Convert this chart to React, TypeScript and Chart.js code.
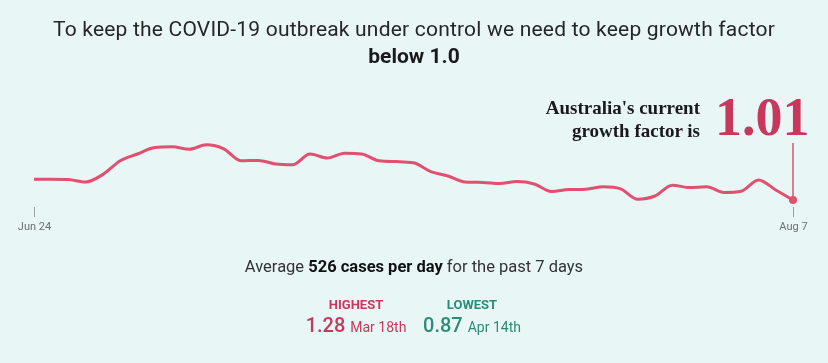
import React, { useEffect, useRef } from "react";
import { Chart, registerables } from "chart.js";

Chart.register(...registerables);

const dates = [
  "Jun 24", "Jun 25", "Jun 26", "Jun 27", "Jun 28", "Jun 29", "Jun 30",
  "Jul 1", "Jul 2", "Jul 3", "Jul 4", "Jul 5", "Jul 6", "Jul 7", "Jul 8",
  "Jul 9", "Jul 10", "Jul 11", "Jul 12", "Jul 13", "Jul 14", "Jul 15",
  "Jul 16", "Jul 17", "Jul 18", "Jul 19", "Jul 20", "Jul 21", "Jul 22",
  "Jul 23", "Jul 24", "Jul 25", "Jul 26", "Jul 27", "Jul 28", "Jul 29",
  "Jul 30", "Jul 31", "Aug 1", "Aug 2", "Aug 3", "Aug 4", "Aug 5", "Aug 6",
  "Aug 7",
];

const growthFactor = [
  1.062, 1.062, 1.061, 1.055, 1.074, 1.108, 1.125, 1.141, 1.143, 1.137,
  1.148, 1.138, 1.108, 1.109, 1.1, 1.098, 1.125, 1.115, 1.127, 1.125,
  1.108, 1.106, 1.103, 1.081, 1.07, 1.055, 1.054, 1.051, 1.056, 1.05,
  1.031, 1.036, 1.037, 1.043, 1.038, 1.012, 1.02, 1.047, 1.041, 1.043,
  1.029, 1.032, 1.06, 1.035, 1.01,
];

const tickDates = ["Jun 24", "Aug 7"];
const yMin = 1.0;
const yMax = 1.15;

const currentValue = "1.01";
const avgCases = "526";
const highest = { value: "1.28", date: "Mar 18th" };
const lowest = { value: "0.87", date: "Apr 14th" };

const LINE = "#e0506f";
const PINK = "#c8385c";
const GREEN = "#2e8b76";
const BG = "#e8f6f6";
const SANS = "Roboto, 'Noto Sans', sans-serif";
const SERIF = "'Liberation Serif', 'DejaVu Serif', serif";

const annotate = {
  id: "annotate",
  beforeDatasetsDraw(chart: any) {
    const { ctx, chartArea, scales } = chart;
    const last = growthFactor.length - 1;
    const px = scales.x.getPixelForValue(last);
    const py = scales.y.getPixelForValue(growthFactor[last]);
    ctx.save();
    ctx.strokeStyle = "#d6566f";
    ctx.lineWidth = 1.5;
    ctx.beginPath();
    ctx.moveTo(px, chartArea.top - 1);
    ctx.lineTo(px, py);
    ctx.stroke();
    ctx.restore();
  },
  afterDatasetsDraw(chart: any) {
    const { ctx, chartArea, scales } = chart;
    ctx.save();
    ctx.font = `11px ${SANS}`;
    ctx.textAlign = "center";
    ctx.textBaseline = "alphabetic";
    for (const d of tickDates) {
      const i = dates.indexOf(d);
      const tx = Math.round(scales.x.getPixelForValue(i)) + 0.5;
      ctx.strokeStyle = "#9aa0a0";
      ctx.lineWidth = 1;
      ctx.beginPath();
      ctx.moveTo(tx, chartArea.bottom + 3);
      ctx.lineTo(tx, chartArea.bottom + 13);
      ctx.stroke();
      ctx.fillStyle = "#6b6f70";
      ctx.fillText(d, tx, chartArea.bottom + 26);
    }
    ctx.restore();
  },
};

export default function App() {
  const ref = useRef<HTMLCanvasElement | null>(null);

  useEffect(() => {
    if (!ref.current) return;
    const last = growthFactor.length - 1;
    const chart = new Chart(ref.current, {
      type: "line",
      data: {
        labels: dates,
        datasets: [
          {
            data: growthFactor,
            borderColor: LINE,
            borderWidth: 3,
            cubicInterpolationMode: "monotone",
            pointRadius: growthFactor.map((_, i) => (i === last ? 4 : 0)),
            pointBackgroundColor: LINE,
            pointBorderWidth: 0,
            pointHoverRadius: 0,
            fill: false,
            clip: false,
          } as any,
        ],
      },
      options: {
        animation: false,
        responsive: false,
        devicePixelRatio: 1,
        events: [],
        layout: { padding: { left: 34, right: 35, top: 144, bottom: 159 } },
        plugins: { legend: { display: false }, tooltip: { enabled: false } },
        scales: {
          x: { type: "category", display: false, offset: false },
          y: { display: false, min: yMin, max: yMax },
        },
      },
      plugins: [annotate],
    });
    return () => chart.destroy();
  }, []);

  const abs = (o: React.CSSProperties): React.CSSProperties => ({
    position: "absolute",
    whiteSpace: "nowrap",
    ...o,
  });

  return (
    <div
      style={{
        position: "relative",
        width: 828,
        height: 363,
        background: BG,
        overflow: "hidden",
        fontFamily: SANS,
      }}
    >
      <style>{`body{margin:0;background:${BG}}`}</style>
      <canvas
        ref={ref}
        width={828}
        height={363}
        style={{ position: "absolute", left: 0, top: 0, width: 828, height: 363 }}
      />
      <div
        style={abs({
          left: 0,
          width: 828,
          top: 18.5,
          textAlign: "center",
          fontSize: 21,
          lineHeight: "21px",
          letterSpacing: "0.2px",
          color: "#262626",
        })}
      >
        To keep the COVID-19 outbreak under control we need to keep growth factor
      </div>
      <div
        style={abs({
          left: 0,
          width: 828,
          top: 45.5,
          textAlign: "center",
          fontSize: 21,
          lineHeight: "21px",
          fontWeight: 700,
          color: "#1a1a1a",
        })}
      >
        below 1.0
      </div>
      <div
        style={abs({
          right: 128,
          top: 96,
          textAlign: "right",
          fontFamily: SERIF,
          fontSize: 19,
          lineHeight: "23.3px",
          fontWeight: 700,
          color: "#1a1a1a",
        })}
      >
        Australia's current
        <br />
        growth factor is
      </div>
      <div
        style={abs({
          left: 715,
          top: 90,
          fontFamily: SERIF,
          fontSize: 54,
          lineHeight: "54px",
          fontWeight: 700,
          color: PINK,
        })}
      >
        {currentValue}
      </div>
      <div
        style={abs({
          left: 0,
          width: 828,
          top: 259,
          textAlign: "center",
          fontSize: 16.5,
          lineHeight: "16.5px",
          color: "#333",
        })}
      >
        Average <b style={{ color: "#111" }}>{avgCases} cases per day</b> for the past 7 days
      </div>
      <div style={abs({ left: 256, width: 200, top: 298, textAlign: "center", color: PINK })}>
        <div style={{ fontSize: 13, lineHeight: "13px", fontWeight: 700 }}>HIGHEST</div>
        <div style={{ fontSize: 20, lineHeight: "20px", marginTop: 4 }}>
          <span style={{ fontWeight: 500 }}>{highest.value}</span>{" "}
          <span style={{ fontSize: 14 }}>{highest.date}</span>
        </div>
      </div>
      <div style={abs({ left: 372, width: 200, top: 298, textAlign: "center", color: GREEN })}>
        <div style={{ fontSize: 13, lineHeight: "13px", fontWeight: 700 }}>LOWEST</div>
        <div style={{ fontSize: 20, lineHeight: "20px", marginTop: 4 }}>
          <span style={{ fontWeight: 500 }}>{lowest.value}</span>{" "}
          <span style={{ fontSize: 14 }}>{lowest.date}</span>
        </div>
      </div>
    </div>
  );
}
